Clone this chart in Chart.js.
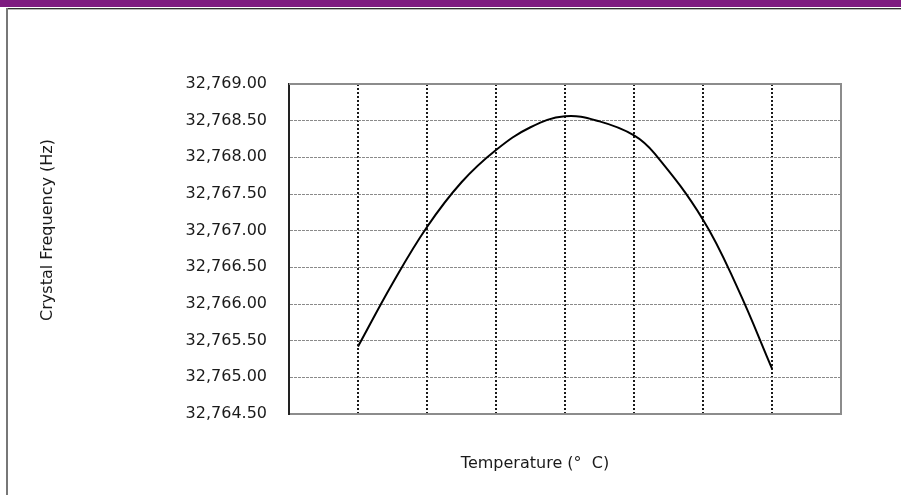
<!DOCTYPE html>
<html>
<head>
<meta charset="utf-8">
<title>Crystal Frequency vs Temperature</title>
<script src="https://cdn.jsdelivr.net/npm/chart.js@4/dist/chart.umd.min.js"></script>
<style>
  html, body { margin: 0; padding: 0; background: #fff; }
  #wrap { position: relative; width: 901px; height: 495px; }
</style>
</head>
<body>
<div id="wrap"><canvas id="freqChart" width="901" height="495"></canvas></div>
<script>
// temperature steps along the x axis (grid units) and measured frequency
const tempSteps = [1, 1.5, 2, 2.5, 3, 3.5, 4, 4.5, 5, 5.3, 6, 6.5, 7];
const freqHz = [32765.42, 32766.28, 32767.05, 32767.66, 32768.10, 32768.41, 32768.56,
                32768.49, 32768.30, 32768.05, 32767.15, 32766.22, 32765.12];

const yMin = 32764.5;
const yMax = 32769.0;
const yStep = 0.5;
const xMin = 0;
const xMax = 8;

const yTitle = 'Crystal Frequency (Hz)';
const xTitle = 'Temperature (\u00B0  C)';

const FONT = '"DejaVu Sans", Verdana, sans-serif';

// page decoration, frame around plot and the two axis titles
const frame = {
    id: 'frame',
    beforeDraw(chart) {
        const c = chart.ctx;
        c.save();
        c.fillStyle = '#fff';
        c.fillRect(0, 0, chart.width, chart.height);
        c.fillStyle = '#7e1b80';
        c.fillRect(0, 0, chart.width, 7);
        c.fillStyle = '#333';
        c.fillRect(6, 8, chart.width - 6, 1);
        c.fillStyle = '#b8b8b8';
        c.fillRect(6, 9, chart.width - 6, 1);
        c.fillStyle = '#777';
        c.fillRect(6, 8, 2, chart.height - 8);
        c.restore();
    },
    afterDraw(chart) {
        const a = chart.chartArea;
        const c = chart.ctx;
        c.save();
        c.strokeStyle = '#8c8c8c';
        c.lineWidth = 2;
        c.beginPath();
        c.moveTo(a.left, a.top);
        c.lineTo(a.right, a.top);
        c.lineTo(a.right, a.bottom);
        c.stroke();

        c.fillStyle = '#1a1a1a';
        c.font = '16px ' + FONT;
        c.textAlign = 'center';
        c.textBaseline = 'middle';
        c.fillText(xTitle, 535, 464);
        c.translate(48, 230);
        c.rotate(-Math.PI / 2);
        c.fillText(yTitle, 0, 0);
        c.restore();
    }
};

const ctx = document.getElementById('freqChart').getContext('2d');

new Chart(ctx, {
    type: 'line',
    data: {
        datasets: [{
            label: 'Frequency',
            data: tempSteps.map((t, i) => ({ x: t, y: freqHz[i] })),
            borderColor: '#000',
            borderWidth: 2,
            pointRadius: 0,
            tension: 0.4,
            fill: false
        }]
    },
    options: {
        responsive: false,
        animation: false,
        layout: { padding: { left: 0, top: 84, right: 60, bottom: 0 } },
        plugins: {
            legend: { display: false },
            tooltip: { enabled: false }
        },
        scales: {
            x: {
                type: 'linear',
                min: xMin,
                max: xMax,
                afterFit(scale) { scale.height = 81; },
                ticks: { stepSize: 1, display: false },
                grid: {
                    drawTicks: false,
                    color: c => (c.tick && (c.tick.value === xMin || c.tick.value === xMax)) ? 'rgba(0,0,0,0)' : '#1a1a1a',
                    lineWidth: 2
                },
                border: { color: '#8c8c8c', width: 2, dash: [2, 2] },
                title: { display: false }
            },
            y: {
                min: yMin,
                max: yMax,
                afterFit(scale) { scale.width = 289; },
                ticks: {
                    stepSize: yStep,
                    padding: 22,
                    color: '#1a1a1a',
                    font: { family: FONT, size: 16 },
                    callback: v => v.toLocaleString('en-US', { minimumFractionDigits: 2, maximumFractionDigits: 2 })
                },
                grid: {
                    drawTicks: false,
                    color: '#8a8a8a',
                    lineWidth: 1
                },
                border: { color: '#222', width: 2, dash: [3, 1] }
            }
        }
    },
    plugins: [frame]
});
</script>
</body>
</html>
